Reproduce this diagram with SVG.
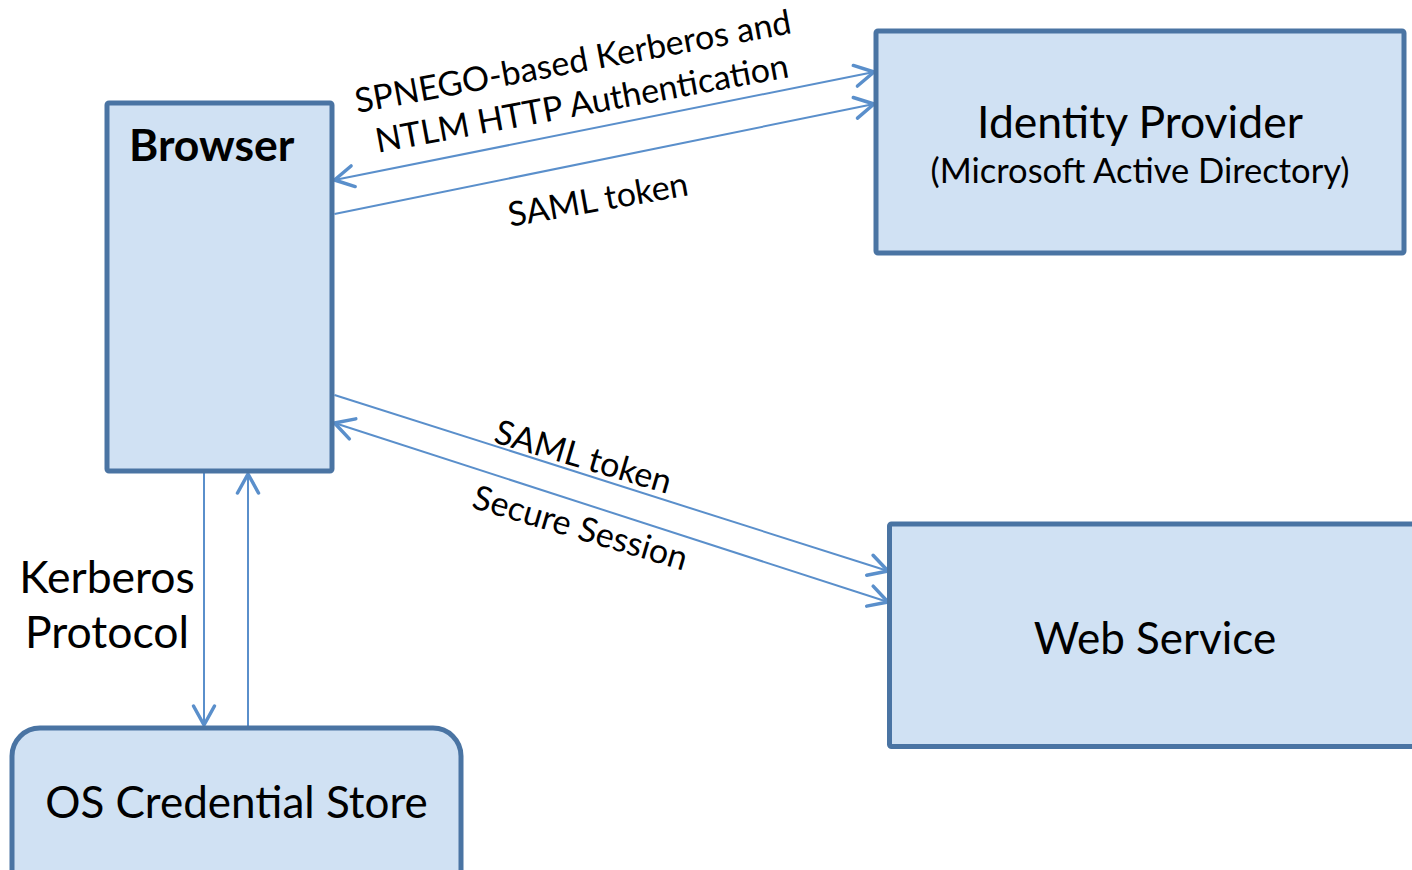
<svg xmlns="http://www.w3.org/2000/svg" width="1412" height="870" viewBox="0 0 1412 870">
  <defs>
    <style>
      .box { fill: #d0e1f3; stroke: #4a74a3; stroke-width: 5; }
      .lbl { font-family: Lato, "Open Sans", "Liberation Sans", sans-serif; fill: #000; }
      .conn { stroke: #5a8fcb; stroke-width: 2; fill: none; }
    </style>
    <marker id="head" viewBox="-22 -13 26 26" markerWidth="26" markerHeight="26" refX="0" refY="0" markerUnits="userSpaceOnUse" orient="auto-start-reverse">
      <path d="M-19,-10.5 L0,0 L-19,10.5" fill="none" stroke="#5a8fcb" stroke-width="3.5" stroke-linecap="round" stroke-linejoin="round"/>
    </marker>
  </defs>

  <rect width="1412" height="870" fill="#ffffff"/>

  <!-- connectors -->
  <g id="connectors" class="conn">
    <line x1="334.5" y1="180" x2="874" y2="72" marker-start="url(#head)" marker-end="url(#head)"/>
    <line x1="334.5" y1="214" x2="874" y2="104" marker-end="url(#head)"/>
    <line x1="334.5" y1="395" x2="888" y2="571" marker-end="url(#head)"/>
    <line x1="334.5" y1="423" x2="888" y2="602" marker-start="url(#head)" marker-end="url(#head)"/>
    <line x1="204" y1="473" x2="204" y2="725" marker-end="url(#head)"/>
    <line x1="248" y1="726" x2="248" y2="474" marker-end="url(#head)"/>
  </g>

  <!-- connector labels -->
  <g id="connector-labels" class="lbl" font-size="34" text-anchor="middle">
    <text transform="translate(575,73) rotate(-10.4)">SPNEGO-based Kerberos and</text>
    <text transform="translate(584,115) rotate(-10.4)">NTLM HTTP Authentication</text>
    <text transform="translate(600,211) rotate(-10)">SAML token</text>
    <text transform="translate(580,468) rotate(16.5)">SAML token</text>
    <text transform="translate(577,539) rotate(16.5)">Secure Session</text>
    <text x="107" y="593" font-size="44.5">Kerberos</text>
    <text x="107" y="648" font-size="44.5">Protocol</text>
  </g>

  <g id="browser">
    <rect class="box" x="107" y="103" width="225" height="368" rx="2"/>
    <text class="lbl" x="129" y="161" font-size="44.5" font-weight="bold">Browser</text>
  </g>

  <g id="identity-provider">
    <rect class="box" x="876" y="31" width="528" height="222" rx="2"/>
    <text class="lbl" x="1140" y="138" font-size="44.5" text-anchor="middle">Identity Provider</text>
    <text class="lbl" x="1140" y="183" font-size="34.5" text-anchor="middle">(Microsoft Active Directory)</text>
  </g>

  <g id="web-service">
    <rect class="box" x="889.5" y="524" width="540" height="222.5" rx="2"/>
    <text class="lbl" x="1155" y="654" font-size="44" text-anchor="middle">Web Service</text>
  </g>

  <g id="os-credential-store">
    <rect class="box" x="12" y="728" width="449" height="170" rx="28"/>
    <text class="lbl" x="236.5" y="818" font-size="44" text-anchor="middle">OS Credential Store</text>
  </g>
</svg>
